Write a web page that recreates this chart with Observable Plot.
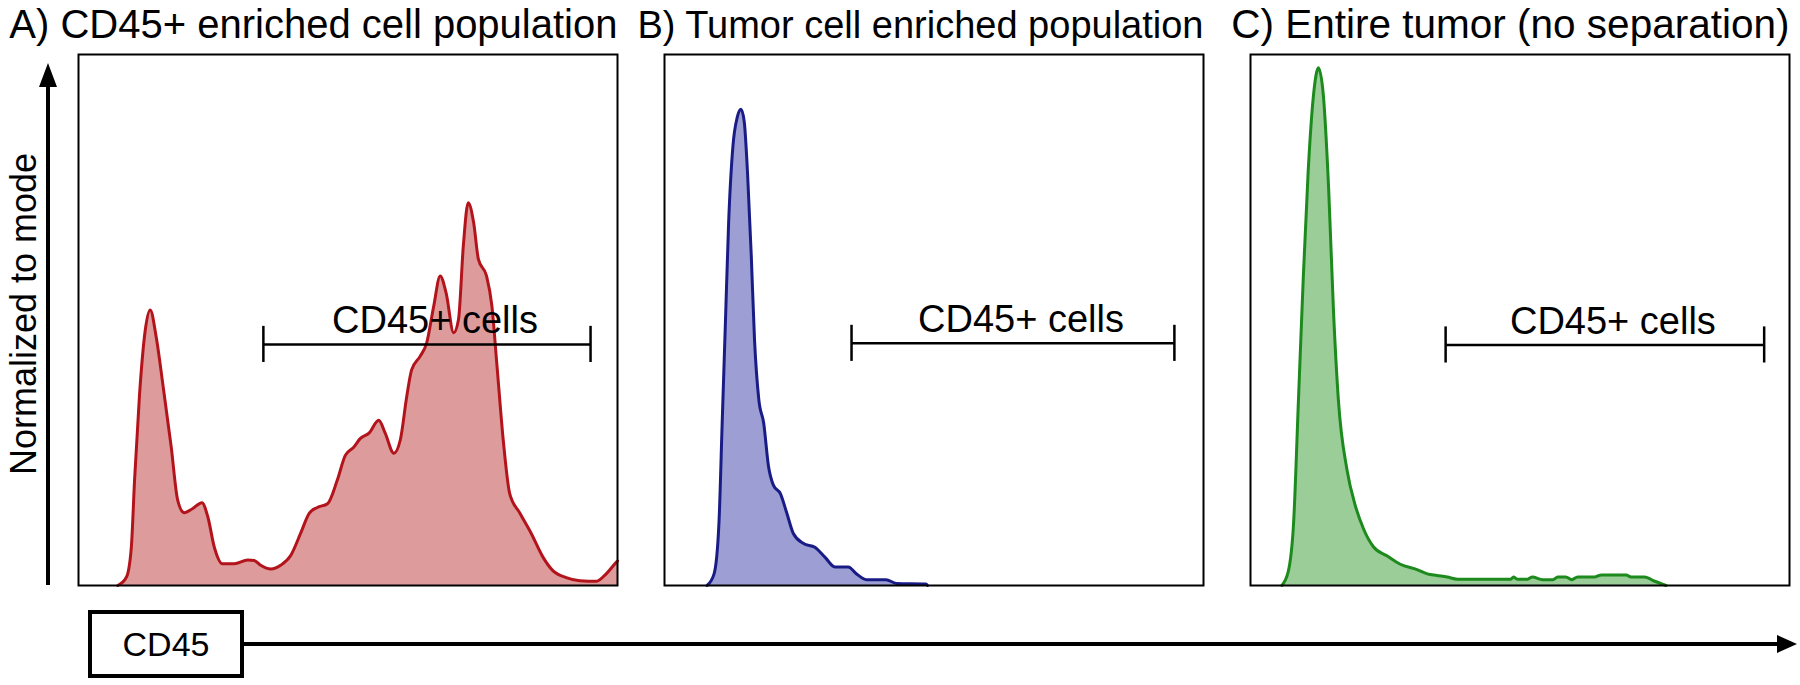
<!DOCTYPE html>
<html><head><meta charset="utf-8">
<script src="https://cdn.jsdelivr.net/npm/d3@7"></script>
<script src="https://cdn.jsdelivr.net/npm/@observablehq/plot@0.6"></script>
<style>body{margin:0;background:#fff} #chart{width:1800px;height:685px}</style>
</head><body><div id="chart"></div>
<script>
// ---- data (x: CD45 intensity, % of axis; y: count, % of panel height) ----
const panels = ["A", "B", "C"];
const titles = ["A) CD45+ enriched cell population", "B) Tumor cell enriched population", "C) Entire tumor (no separation)"];
const aX = [0, 7.3, 8.9, 9.8, 10.4, 11.3, 12.4, 13.3, 14.4, 15.7, 17.2, 18.4, 19.6, 21.2, 22.9, 24.0, 25.2, 26.7, 28.9, 31.4, 32.6, 33.8, 35.7, 37.5, 39.4, 41.2, 42.8, 44.3, 46.2, 48.0, 49.5, 51.1, 52.3, 53.9, 55.7, 56.9, 58.5, 59.7, 60.9, 61.8, 63.4, 64.6, 65.9, 67.1, 68.2, 69.6, 70.5, 71.4, 72.3, 73.3, 74.2, 75.7, 76.7, 77.6, 78.8, 80.0, 81.9, 84.0, 86.2, 88.0, 90.5, 93.0, 96.1, 97.9, 99.8, 100];
const aY = [0, 0, 1.6, 7.2, 19.8, 35.6, 48.2, 51.9, 46.9, 37.5, 26.1, 16.1, 13.7, 14.5, 15.6, 12.9, 7.2, 4.1, 4.1, 4.8, 4.7, 3.8, 3.1, 3.8, 5.7, 9.8, 13.6, 14.7, 15.4, 19.8, 24.5, 26.1, 27.7, 28.7, 31.1, 28.7, 24.9, 27.4, 35.6, 40.6, 43.2, 45.7, 52.6, 58.3, 55.1, 47.6, 50.1, 64, 72.1, 68.4, 61.4, 58.3, 52.6, 41.9, 27.4, 17.3, 13.6, 9.8, 5.3, 2.8, 1.5, 0.9, 0.8, 2.2, 4.4, 4.6];
const bX = [0, 7.9, 9.2, 10.1, 10.7, 11.3, 11.9, 12.7, 13.5, 14.2, 14.8, 15.4, 16.1, 16.7, 17.5, 18.4, 19.3, 20.2, 21.5, 22.7, 23.9, 25.8, 27.9, 29.8, 31.6, 34.1, 35.6, 37.5, 41.1, 43.0, 48.5, 48.8, 100];
const bY = [0, 0, 2.2, 11.7, 30.6, 49.5, 68.4, 82.8, 88.2, 89.7, 87.3, 77.8, 62.1, 46.3, 35, 30.6, 22.4, 18.9, 17.3, 13.6, 9.8, 7.9, 7.2, 5.3, 3.5, 3.5, 2.2, 1.1, 1.1, 0.4, 0.3, 0, 0];
const cX = [0, 5.8, 7.0, 8.0, 8.9, 9.8, 10.7, 11.7, 12.6, 13.5, 14.5, 15.4, 16.3, 17.9, 19.4, 21.0, 22.8, 25.3, 27.8, 30.9, 32.8, 34.6, 36.5, 38.4, 48.3, 48.8, 49.5, 51.4, 52.3, 54.2, 56.1, 57.0, 58.5, 59.6, 60.7, 63.8, 65.1, 69.7, 70.6, 73.1, 75.0, 77.1, 100];
const cY = [0, 0, 2.6, 11.9, 35, 58.2, 78, 92.5, 97.5, 92.5, 74.7, 51.6, 35, 21.8, 15.2, 10.6, 7.3, 5.6, 4.0, 3.0, 2.2, 1.9, 1.6, 1.2, 1.2, 1.6, 1.2, 1.2, 1.6, 1.1, 1.1, 1.6, 1.6, 1.1, 1.6, 1.6, 2.0, 2.0, 1.6, 1.6, 0.8, 0, 0];
const gateStart = [34.3, 34.7, 36.2];
const gateEnd = [95.0, 94.6, 95.3];
const gateLevel = [45.4, 45.6, 45.3];
const gateLabel = "CD45+ cells";
const yLabel = "Normalized to mode";
const xLabel = "CD45";

// ---- styles & layout ----
const fills = ["#de9b9c", "#9c9ed4", "#9acd97"];
const strokes = ["#b3141c", "#1a1c86", "#1d8a1d"];
const titleSizes = [40, 38, 40.5];
const W = 1800, H = 685, mT = 54, mB = 100, mL = 77, mR = 9;
const FONT = "'Liberation Sans', Arial, Helvetica, sans-serif";

const xs = [aX, bX, cX], ys = [aY, bY, cY];
const series = panels.map((p, i) => xs[i].map((x, j) => ({panel: p, x, y: ys[i][j]})));
// line only where the curve leaves the baseline
const lineData = s => s.filter((d, j) => d.y > 0 || (s[j - 1] && s[j - 1].y > 0) || (s[j + 1] && s[j + 1].y > 0));

const marks = [];
panels.forEach((p, i) => {
  marks.push(Plot.areaY(series[i], {x: "x", y: "y", fx: "panel", fill: fills[i], curve: "monotone-x"}));
  marks.push(Plot.lineY(lineData(series[i]), {x: "x", y: "y", fx: "panel", stroke: strokes[i], strokeWidth: 3, curve: "monotone-x"}));
});
marks.push(Plot.frame({stroke: "#000", strokeWidth: 2}));
const gates = panels.map((p, i) => ({panel: p, x1: gateStart[i], x2: gateEnd[i], y: gateLevel[i]}));
const gateEnds = gates.flatMap(g => [{panel: g.panel, x: g.x1, y: g.y}, {panel: g.panel, x: g.x2, y: g.y}]);
const tickHalf = 3.4;
marks.push(Plot.ruleY(gates, {fx: "panel", y: "y", x1: "x1", x2: "x2", stroke: "#000", strokeWidth: 2.5}));
marks.push(Plot.ruleX(gateEnds, {fx: "panel", x: "x", y1: d => d.y - tickHalf, y2: d => d.y + tickHalf, stroke: "#000", strokeWidth: 2.5}));
marks.push(Plot.text(gates, {fx: "panel", x: d => (d.x1 + d.x2) / 2, y: "y", text: () => gateLabel, dx: 8, dy: -11, lineAnchor: "bottom", fontSize: 38, fill: "#000"}));
panels.forEach((p, i) => {
  marks.push(Plot.text([{panel: p, title: titles[i]}], {fx: "panel", text: "title", frameAnchor: "top-right", textAnchor: "end", lineAnchor: "bottom", dy: -17, fontSize: titleSizes[i], fill: "#000"}));
});

const chart = Plot.plot({
  width: W, height: H, marginTop: mT, marginBottom: mB, marginLeft: mL, marginRight: mR,
  style: {fontFamily: FONT, background: "#fff", color: "#000"},
  fx: {domain: panels, axis: null, paddingInner: 0.08, paddingOuter: 0},
  x: {domain: [0, 100], axis: null},
  y: {domain: [0, 100], axis: null},
  marks
});
document.getElementById("chart").appendChild(chart);

// ---- axis decorations: arrows, y label and the CD45 box ----
const svg = d3.select(chart);
const g = svg.append("g").attr("fill", "#000");
const yBottom = H - mB;
const ax = 48;
g.append("line").attr("x1", ax).attr("x2", ax).attr("y1", yBottom).attr("y2", mT + 25)
  .attr("stroke", "#000").attr("stroke-width", 4);
g.append("path").attr("d", `M${ax},${mT + 9} L${ax - 9},${mT + 33} L${ax + 9},${mT + 33} Z`);
g.append("text").attr("transform", `translate(36,314) rotate(-90)`)
  .attr("text-anchor", "middle").attr("font-family", FONT).attr("font-size", 36).text(yLabel);

const bx = 90, by = 612, bw = 152, bh = 64, ay = by + bh / 2;
g.append("line").attr("x1", bx + bw).attr("x2", W - 20).attr("y1", ay).attr("y2", ay)
  .attr("stroke", "#000").attr("stroke-width", 4);
g.append("path").attr("d", `M${W - 3},${ay} L${W - 23},${ay - 9} L${W - 23},${ay + 9} Z`);
g.append("rect").attr("x", bx).attr("y", by).attr("width", bw).attr("height", bh)
  .attr("fill", "#fff").attr("stroke", "#000").attr("stroke-width", 4);
g.append("text").attr("x", bx + bw / 2).attr("y", ay).attr("dy", "0.36em")
  .attr("text-anchor", "middle").attr("font-family", FONT).attr("font-size", 34).text(xLabel);
</script>
</body></html>
